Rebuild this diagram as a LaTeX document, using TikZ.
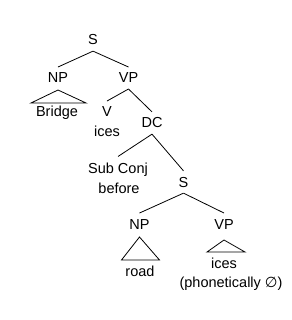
\documentclass[tikz,border=0pt]{standalone}
\usepackage{fontspec}
\setmainfont{Liberation Sans}
\newfontfamily\symfont{DejaVu Sans}
\usepackage{tikz}
\usetikzlibrary{positioning}

\begin{document}
\begin{tikzpicture}[x=1pt, y=1pt, thick,
  every node/.style={font=\fontsize{14.5}{17}\selectfont, inner sep=2pt, outer sep=4pt, anchor=base}]
 % Canvas of the reference
 \useasboundingbox (0,0) rectangle (291,-320);
 % Upper clause
 \node (S1) at (93,-45) {S};
 \node (NP1) at (58,-83) {NP};
 \node (VP1) at (128.5,-83) {VP};
 \node (Bridge) at (57,-117) {Bridge};
 \node (V) at (107,-117) {V};
 \node (ices1) at (107,-137) {ices};
 \node (DC) at (152,-128) {DC};
 \node (SubConj) at (118,-173) {Sub Conj};
 \node (before) at (119,-193) {before};
 % Lower clause
 \node (S2) at (183.5,-187) {S};
 \node (NP2) at (139.5,-229) {NP};
 \node (VP2) at (224,-229) {VP};
 \node (road) at (140,-276) {road};
 \node (ices2) at (224,-268) {ices};
 \node (phon) at (231,-287) {(phonetically {\symfont ∅})};
 % Branches
 \draw (S1.south) -- (NP1.north);
 \draw (S1.south) -- (VP1.north);
 \draw (VP1.south) -- (V.north);
 \draw (VP1.south) -- (DC.north);
 \draw (DC.south) -- (SubConj.north);
 \draw (DC.south) -- (S2.north);
 \draw (S2.south) -- (NP2.north);
 \draw (S2.south) -- (VP2.north);
 % Triangles over the phrases
 \draw ([yshift=-1]NP1.south) -- ++(-27,-13) -- ++(55,0) -- cycle;
 \draw ([yshift=-2]NP2.south) -- ++(-18,-23) -- ++(38,0) -- cycle;
 \draw ([yshift=-5]VP2.south) -- ++(-17,-12) -- ++(38,0) -- cycle;
\end{tikzpicture}
\end{document}
